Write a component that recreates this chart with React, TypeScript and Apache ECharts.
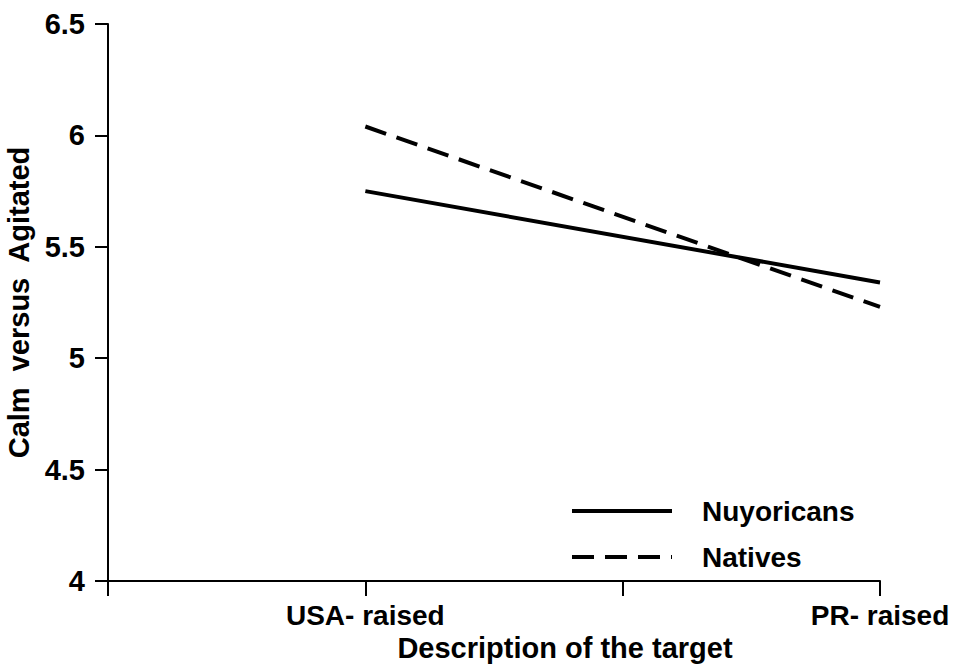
import React, { useEffect, useRef } from "react";
import * as echarts from "echarts";

const xPositions = [1, 3];
const xTickLabels: Record<number, string> = { 1: "USA- raised", 3: "PR- raised" };
const nuyoricans = [5.75, 5.34];
const natives = [6.04, 5.23];
const seriesNames = ["Nuyoricans", "Natives"];

const FONT = "'Liberation Sans', Arial, Helvetica, sans-serif";

export default function App() {
  const ref = useRef<HTMLDivElement>(null);
  useEffect(() => {
    if (!ref.current) return;
    const chart = echarts.init(ref.current, null, { renderer: "svg" });
    const axisLine = { lineStyle: { color: "#000", width: 2 } };
    chart.setOption({
      animation: false,
      backgroundColor: "#fff",
      grid: { left: 108, right: 83, top: 24, bottom: 90, containLabel: false, outerBoundsMode: "none" },
      legend: {
        orient: "vertical",
        left: 565,
        top: 492,
        itemWidth: 100,
        itemHeight: 28,
        itemGap: 18,
        data: seriesNames,
        itemStyle: { color: "rgba(0,0,0,0)", borderWidth: 0, opacity: 0 },
        lineStyle: { width: 4, color: "#000" },
        textStyle: {
          fontFamily: FONT,
          fontWeight: "bold",
          fontSize: 28,
          color: "#000",
          padding: [0, 0, 0, 25],
        },
      },
      xAxis: {
        type: "value",
        min: 0,
        max: 3,
        interval: 1,
        splitLine: { show: false },
        axisLine,
        axisTick: { show: true, length: 15, lineStyle: { color: "#000", width: 2 } },
        axisLabel: {
          margin: 20,
          fontFamily: FONT,
          fontWeight: "bold",
          fontSize: 28,
          color: "#000",
          formatter: (v: number) => xTickLabels[v] ?? "",
        },
        name: "Description of the target",
        nameLocation: "middle",
        nameGap: 51,
        nameTextStyle: {
          fontFamily: FONT,
          fontWeight: "bold",
          fontSize: 29,
          color: "#000",
          padding: [0, 0, 0, 142],
        },
      },
      yAxis: {
        type: "value",
        min: 4,
        max: 6.5,
        interval: 0.5,
        splitLine: { show: false },
        axisLine: { show: true, ...axisLine },
        axisTick: { show: true, length: 13, lineStyle: { color: "#000", width: 2 } },
        axisLabel: {
          margin: 23,
          fontFamily: FONT,
          fontWeight: "bold",
          fontSize: 29,
          color: "#000",
        },
        name: "Calm  versus  Agitated",
        nameLocation: "middle",
        nameGap: 62,
        nameTextStyle: { fontFamily: FONT, fontWeight: "bold", fontSize: 29, color: "#000" },
      },
      series: [
        {
          name: seriesNames[0],
          type: "line",
          data: xPositions.map((x, i) => [x, nuyoricans[i]]),
          showSymbol: false,
          symbol: "none",
          lineStyle: { color: "#000", width: 4, type: "solid" },
          itemStyle: { color: "#000" },
        },
        {
          name: seriesNames[1],
          type: "line",
          data: xPositions.map((x, i) => [x, natives[i]]),
          showSymbol: false,
          symbol: "none",
          lineStyle: { color: "#000", width: 4, type: [22, 11] },
          itemStyle: { color: "#000" },
        },
      ],
    });
    return () => chart.dispose();
  }, []);
  return <div ref={ref} style={{ width: 963, height: 671, position: "absolute", left: 0, top: 0 }} />;
}
